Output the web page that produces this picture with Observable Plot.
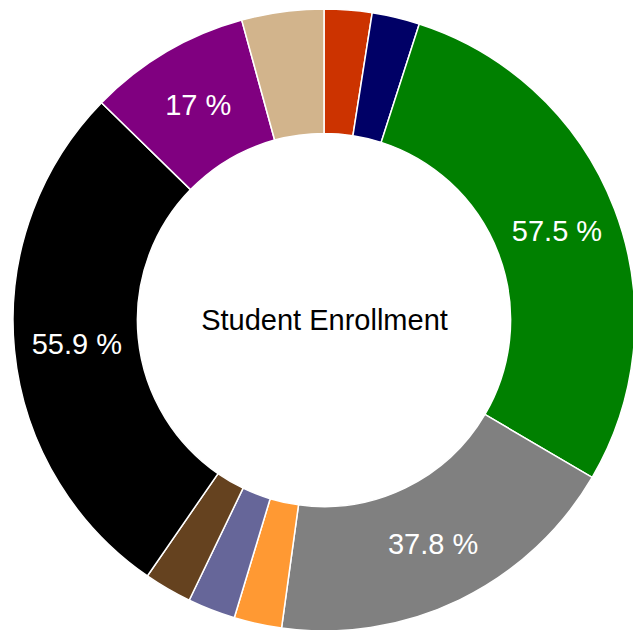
<!DOCTYPE html>
<html>
<head>
<meta charset="utf-8">
<script src="https://cdn.jsdelivr.net/npm/d3@7"></script>
<script src="https://cdn.jsdelivr.net/npm/@observablehq/plot@0.6"></script>
<style>
  html, body { margin: 0; padding: 0; background: #fff; }
  #chart { width: 633px; height: 630px; }
</style>
</head>
<body>
<div id="chart"></div>
<script>
// Data (clockwise from 12 o'clock)
const categories = ["A", "B", "C", "D", "E", "F", "G", "H", "I", "J"];
const values = [5, 5, 57.5, 37.8, 5, 5, 5, 55.9, 17, 8.6];
const sliceColors = ["#cc3300", "#000066", "#008000", "#808080", "#ff9933", "#666699", "#65421f", "#000000", "#800080", "#d2b48c"];
const centerTitle = "Student Enrollment";
const labelThreshold = 10;

const innerRatio = 0.6;

const table = categories.map((c, i) => ({category: c, value: values[i]}));
const arcs = d3.pie().value(d => d.value).sort(null)(table);
const sliceRows = arcs.map(a => ({
  category: a.data.category,
  value: a.data.value,
  startAngle: a.startAngle,
  endAngle: a.endAngle,
  cx: 0,
  cy: 0
}));
const midR = (1 + innerRatio) / 2;
const labelRows = sliceRows
  .filter(d => d.value >= labelThreshold)
  .map(d => {
    const a = (d.startAngle + d.endAngle) / 2;
    return {x: midR * Math.sin(a), y: midR * Math.cos(a), text: `${d.value} %`};
  });

const donut = Plot.dot(sliceRows, {
  x: "cx",
  y: "cy",
  fill: "category",
  render(index, scales, vals) {
    const R = scales.x(1) - scales.x(0);
    const arc = d3.arc().innerRadius(R * innerRatio).outerRadius(R);
    const g = d3.create("svg:g");
    for (const i of index) {
      g.append("path")
        .attr("transform", `translate(${vals.x[i]},${vals.y[i]})`)
        .attr("d", arc(sliceRows[i]))
        .attr("fill", vals.fill[i])
        .attr("stroke", "white")
        .attr("stroke-width", 1.5);
    }
    return g.node();
  }
});

const chart = Plot.plot({
  width: 633,
  height: 630,
  margin: 0,
  style: {fontFamily: "Arial, 'Liberation Sans', sans-serif", background: "white"},
  x: {domain: [-1, 1], range: [13, 635], axis: null},
  y: {domain: [-1, 1], range: [631, 9], axis: null},
  color: {domain: categories, range: sliceColors},
  marks: [
    donut,
    Plot.text(labelRows, {x: "x", y: "y", text: "text", fill: "white", fontSize: 29}),
    Plot.text([{x: 0, y: 0, t: centerTitle}], {x: "x", y: "y", text: "t", fill: "black", fontSize: 29})
  ]
});
document.getElementById("chart").append(chart);
</script>
</body>
</html>
